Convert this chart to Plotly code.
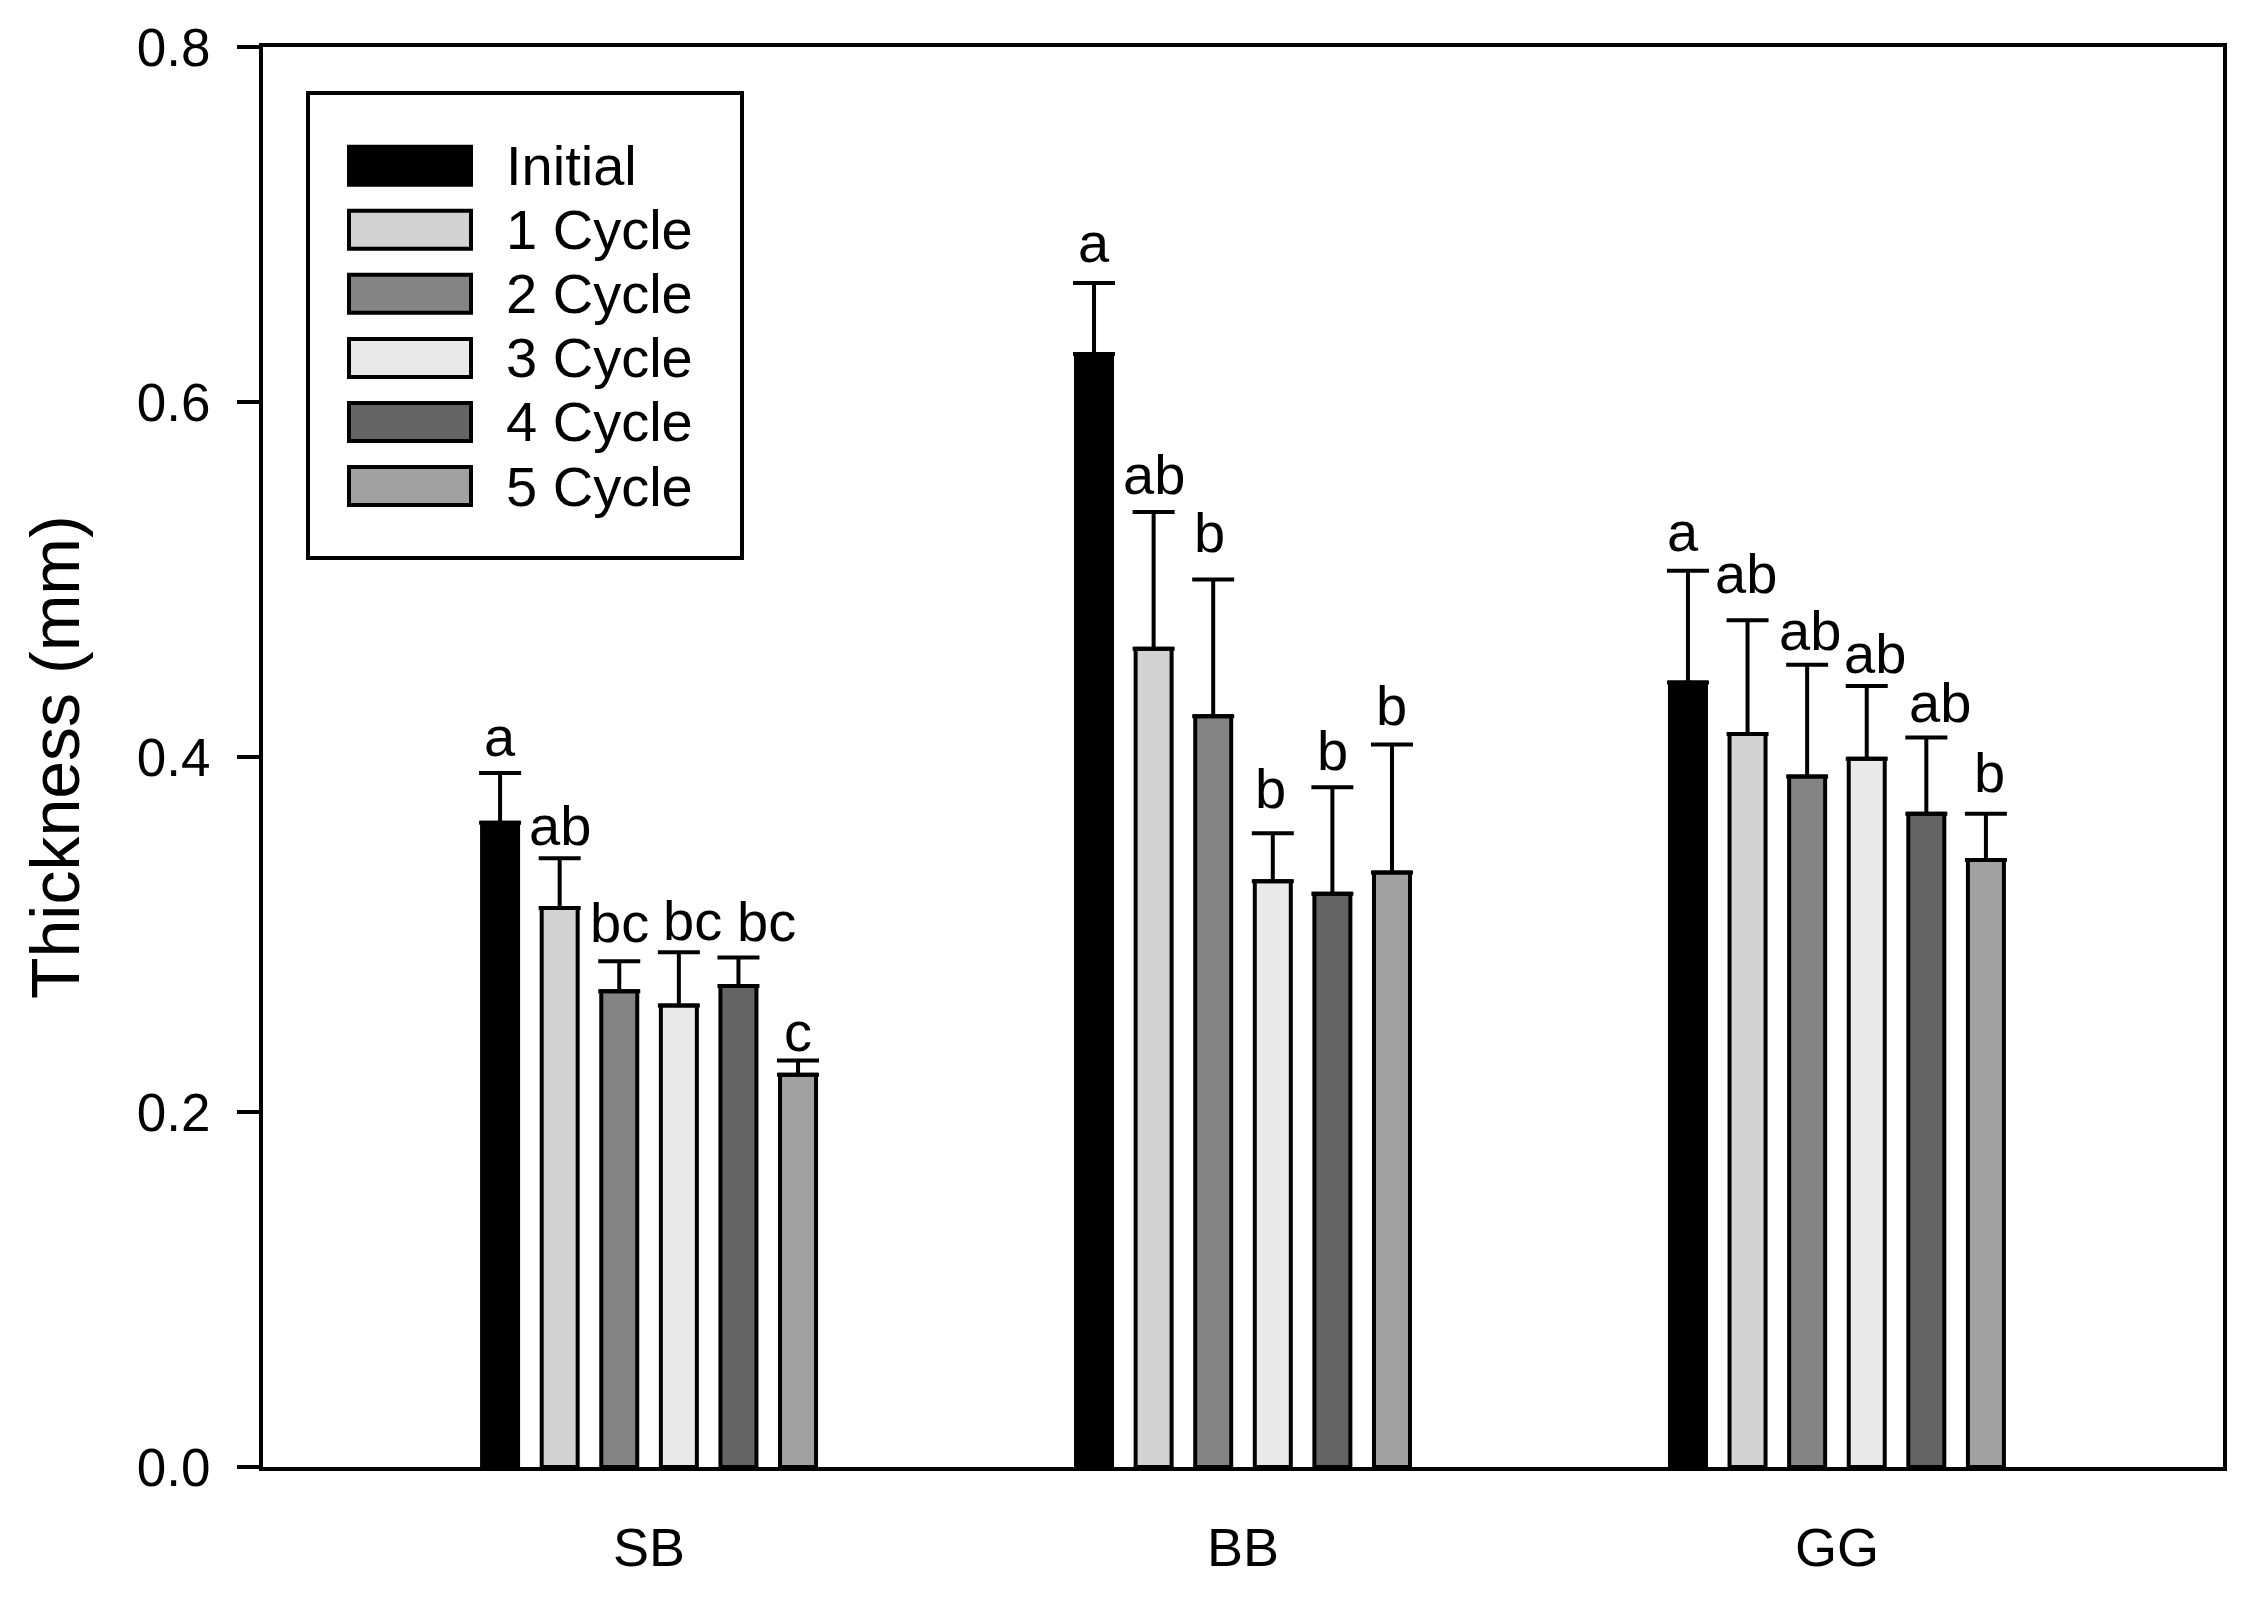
import plotly.graph_objects as go

# ---- data ----
categories = ["SB", "BB", "GG"]
series_names = ["Initial", "1 Cycle", "2 Cycle", "3 Cycle", "4 Cycle", "5 Cycle"]
series_colors = ["#000000", "#d3d3d3", "#848484", "#e9e9e9", "#646464", "#a1a1a1"]

initial_mean = [0.363, 0.627, 0.442]
cycle1_mean = [0.315, 0.461, 0.413]
cycle2_mean = [0.268, 0.423, 0.389]
cycle3_mean = [0.260, 0.330, 0.399]
cycle4_mean = [0.271, 0.323, 0.368]
cycle5_mean = [0.221, 0.335, 0.342]

initial_err = [0.028, 0.040, 0.063]
cycle1_err = [0.028, 0.077, 0.064]
cycle2_err = [0.017, 0.077, 0.063]
cycle3_err = [0.030, 0.027, 0.041]
cycle4_err = [0.016, 0.060, 0.043]
cycle5_err = [0.008, 0.072, 0.026]

initial_sig = ["a", "a", "a"]
cycle1_sig = ["ab", "ab", "ab"]
cycle2_sig = ["bc", "b", "ab"]
cycle3_sig = ["bc", "b", "ab"]
cycle4_sig = ["bc", "b", "ab"]
cycle5_sig = ["c", "b", "b"]

y_tick_values = [0.0, 0.2, 0.4, 0.6, 0.8]
y_title = "Thickness (mm)"

means = [initial_mean, cycle1_mean, cycle2_mean, cycle3_mean, cycle4_mean, cycle5_mean]
errs = [initial_err, cycle1_err, cycle2_err, cycle3_err, cycle4_err, cycle5_err]
sigs = [initial_sig, cycle1_sig, cycle2_sig, cycle3_sig, cycle4_sig, cycle5_sig]

# ---- layout constants ----
PAGE_OFF = 8  # default body margin of the html page
W, H = 2247, 1601
ML, MR, MT, MB = 263, 24, 47, 134
PW, PH = W - ML - MR, H - MT - MB
FONT = "Liberation Sans, Arial, sans-serif"
BARGAP = 0.398
BARGROUPGAP = 0.396
n = len(series_names)

# small hand-placement nudges of the letter labels (px), per series x category
label_dx = [[0, 0, -5], [0, 0, -2], [0, -4, 3], [14, -2, 8], [28, 0, 14], [0, 0, 4]]
label_dy = [[0, 4, 3], [-4, 1, 10], [2, 11, -2], [-5, 8, -4], [0, 0, -2], [-7, 3, 5]]

def px_x(px):
    return (px - ML) / PW

def px_y(py):
    return (MT + PH - py) / PH

fig = go.Figure()
for i in range(n):
    fig.add_trace(go.Bar(
        name=series_names[i],
        x=categories,
        y=means[i],
        marker=dict(color=series_colors[i], line=dict(color="black", width=4)),
        error_y=dict(type="data", array=errs[i], arrayminus=[0] * len(categories),
                     symmetric=False, visible=True, color="black",
                     thickness=4, width=21),
        showlegend=False,
    ))

annotations = []
slot = (1 - BARGAP) / n
for i in range(n):
    off = -(1 - BARGAP) / 2 + (i + 0.5) * slot
    for j in range(len(categories)):
        annotations.append(dict(
            x=j + off, y=means[i][j] + errs[i][j], xref="x", yref="y",
            text=sigs[i][j], showarrow=False, yanchor="bottom", xanchor="center",
            xshift=label_dx[i][j], yshift=3 + label_dy[i][j],
            font=dict(family=FONT, size=56, color="black")))

# y axis title
annotations.append(dict(
    x=0, y=0.5, xref="paper", yref="paper", text=y_title, textangle=-90,
    showarrow=False, xanchor="center", yanchor="middle", xshift=-208,
    font=dict(family=FONT, size=68, color="black")))

# custom legend
shapes = [dict(type="rect", xref="paper", yref="paper",
               x0=px_x(308), x1=px_x(742), y0=px_y(558), y1=px_y(93),
               line=dict(color="black", width=4), fillcolor="white", layer="above")]
row0, row_step = 165.7, 64.06
for i in range(n):
    cy = row0 + i * row_step
    shapes.append(dict(type="rect", xref="paper", yref="paper",
                       x0=px_x(349), x1=px_x(471), y0=px_y(cy + 19), y1=px_y(cy - 19),
                       line=dict(color="black", width=4), fillcolor=series_colors[i],
                       layer="above"))
    annotations.append(dict(
        x=px_x(504), y=px_y(cy), xref="paper", yref="paper", text=series_names[i],
        showarrow=False, xanchor="left", yanchor="middle",
        font=dict(family=FONT, size=56, color="black")))

fig.update_layout(
    width=W - PAGE_OFF, height=H - PAGE_OFF,
    margin=dict(l=ML - PAGE_OFF, r=MR, t=MT - PAGE_OFF, b=MB, autoexpand=False),
    paper_bgcolor="white", plot_bgcolor="white",
    barmode="group", bargap=BARGAP, bargroupgap=BARGROUPGAP,
    showlegend=False,
    annotations=annotations, shapes=shapes,
    font=dict(family=FONT, color="black"),
)
fig.update_xaxes(
    type="category", range=[-0.65, 2.65],
    showline=True, linecolor="black", linewidth=4, mirror=True,
    ticks="", showgrid=False, zeroline=False,
    tickfont=dict(family=FONT, size=54, color="black"),
    ticklabelstandoff=30,
)
fig.update_yaxes(
    range=[0, 0.8], tickvals=y_tick_values, tickformat=".1f",
    showline=True, linecolor="black", linewidth=4, mirror=True,
    ticks="outside", ticklen=22, tickwidth=4, tickcolor="black",
    showgrid=False, zeroline=False,
    tickfont=dict(family=FONT, size=53, color="black"),
    ticklabelstandoff=16,
)

fig.write_html("out.html")
